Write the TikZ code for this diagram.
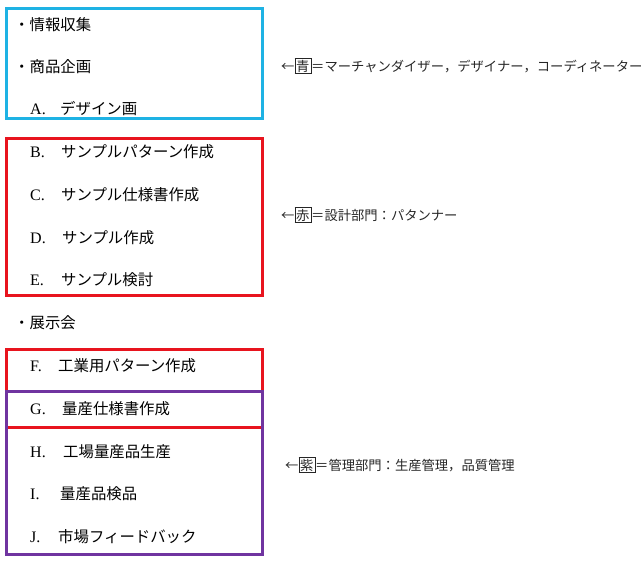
\documentclass[tikz,border=0pt]{standalone}
\usepackage{fontspec}
\setmainfont{Liberation Serif}
\newfontfamily\jp{Noto Sans CJK JP}
\definecolor{boxblue}{RGB}{30,178,228}
\definecolor{boxred}{RGB}{232,20,30}
\definecolor{boxpurple}{RGB}{112,52,160}
\newcommand{\lt}[2]{\makebox[#1][l]{\rmfamily\fontsize{16}{16}\selectfont #2}}
\newcommand{\bx}[1]{{\setlength{\fboxsep}{1.2pt}\setlength{\fboxrule}{0.5pt}\fbox{#1}}}
\begin{document}
\begin{tikzpicture}[x=1pt,y=-1pt,
  item/.style={anchor=west,inner sep=0pt,font=\fontsize{15.4}{16}\selectfont\jp},
  note/.style={anchor=west,inner sep=0pt,font=\fontsize{13.3}{14}\selectfont\jp,text=black!85},
  frame/.style={line width=3pt}]
\useasboundingbox (0,0) rectangle (642,571);
\draw[frame,boxblue] (6,8) rectangle (262,118);
\draw[frame,boxred] (6,138) rectangle (262,295);
\draw[frame,boxred] (6,349) rectangle (262,427);
\draw[frame,boxpurple] (6,391) rectangle (262,554);
\node[item] (i1) at (14,25) {・情報収集};
\node[item] (i2) at (14,67) {・商品企画};
\node[item] (a) at (30,109) {\lt{30pt}{A.}デザイン画};
\node[item] (b) at (30,152) {\lt{31pt}{B.}サンプルパターン作成};
\node[item] (c) at (30,195) {\lt{31pt}{C.}サンプル仕様書作成};
\node[item] (d) at (30,238) {\lt{32pt}{D.}サンプル作成};
\node[item] (e) at (30,280) {\lt{31pt}{E.}サンプル検討};
\node[item] (i3) at (14,323) {・展示会};
\node[item] (f) at (30,366) {\lt{28pt}{F.}工業用パターン作成};
\node[item] (g) at (30,409) {\lt{32pt}{G.}量産仕様書作成};
\node[item] (h) at (30,452) {\lt{33pt}{H.}工場量産品生産};
\node[item] (i) at (30,494) {\lt{30pt}{I.}量産品検品};
\node[item] (j) at (30,537) {\lt{28pt}{J.}市場フィードバック};
\node[note] (n1) at (281,66) {←\bx{青}＝マーチャンダイザー，デザイナー，コーディネーター};
\node[note] (n2) at (281,215) {←\bx{赤}＝設計部門：パタンナー};
\node[note] (n3) at (285,465) {←\bx{紫}＝管理部門：生産管理，品質管理};
\end{tikzpicture}
\end{document}
